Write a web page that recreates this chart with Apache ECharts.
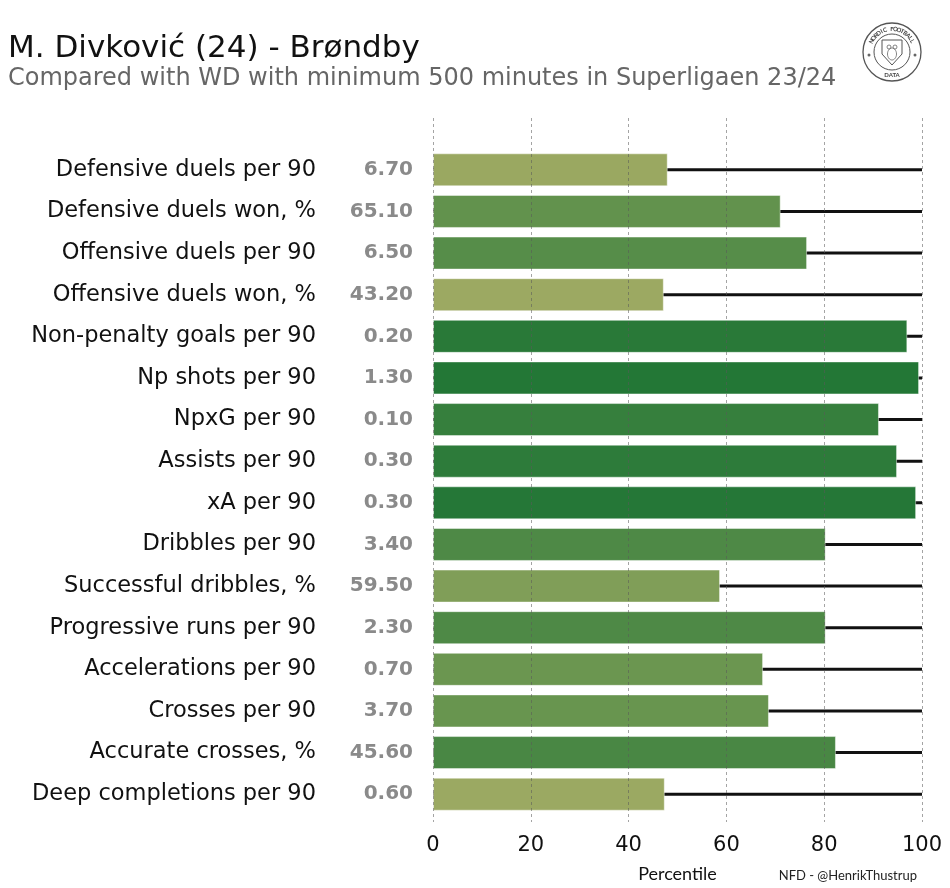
<!DOCTYPE html>
<html>
<head>
<meta charset="utf-8">
<script src="https://cdn.jsdelivr.net/npm/echarts@6/dist/echarts.min.js"></script>
<style>
  html, body { margin: 0; padding: 0; background: #fff; }
  #chart { width: 950px; height: 888px; }
</style>
</head>
<body>
<div id="chart"></div>
<script>
const metrics = [
  'Defensive duels per 90', 'Defensive duels won, %', 'Offensive duels per 90',
  'Offensive duels won, %', 'Non-penalty goals per 90', 'Np shots per 90',
  'NpxG per 90', 'Assists per 90', 'xA per 90', 'Dribbles per 90',
  'Successful dribbles, %', 'Progressive runs per 90', 'Accelerations per 90',
  'Crosses per 90', 'Accurate crosses, %', 'Deep completions per 90'
];
const rawValues = [
  '6.70', '65.10', '6.50', '43.20', '0.20', '1.30', '0.10', '0.30',
  '0.30', '3.40', '59.50', '2.30', '0.70', '3.70', '45.60', '0.60'
];
const percentiles = [
  48.0, 71.1, 76.5, 47.2, 97.0, 99.4, 91.2, 94.9,
  98.8, 80.3, 58.7, 80.3, 67.5, 68.7, 82.4, 47.4
];
const fullScale = [
  100, 100, 100, 100, 100, 100, 100, 100,
  100, 100, 100, 100, 100, 100, 100, 100
];
const xTicks = [0, 20, 40, 60, 80, 100];

const FONT = '"DejaVu Sans", sans-serif';
const SMALL_FONT = 'Lato, sans-serif';

// little badge top right, letters placed round the ring
const logoCx = 892, logoCy = 52;
const ringText = 'NORDIC FOOTBALL';
const ringChars = [];
for (let i = 0; i < ringText.length; i++) {
  const a = (-152 + i * (124 / (ringText.length - 1))) * Math.PI / 180;
  ringChars.push({
    type: 'text',
    x: logoCx + 23 * Math.cos(a),
    y: logoCy + 23 * Math.sin(a),
    rotation: -(a + Math.PI / 2),
    style: { text: ringText[i], fill: '#444', font: 'bold 6px ' + SMALL_FONT, align: 'center', verticalAlign: 'middle' }
  });
}

const chart = echarts.init(document.getElementById('chart'));
chart.setOption({
  backgroundColor: '#fff',
  animation: false,
  title: [
    {
      text: 'M. Divković (24) - Brøndby',
      left: 3, top: 28,
      textStyle: { fontFamily: FONT, fontSize: 31, fontWeight: 'normal', color: '#111' }
    },
    {
      text: 'Compared with WD with minimum 500 minutes in Superligaen 23/24',
      left: 3, top: 62,
      textStyle: { fontFamily: FONT, fontSize: 24, fontWeight: 'normal', color: '#666' }
    },
    {
      text: 'NFD - @HenrikThustrup',
      right: 28, top: 864,
      textStyle: { fontFamily: SMALL_FONT, fontSize: 13, fontWeight: 'normal', color: '#222' }
    }
  ],
  grid: [
    { left: 433, right: 28, top: 149, bottom: 66 },
    { left: 433, right: 28, top: 118, bottom: 66 }
  ],
  visualMap: {
    show: false,
    type: 'continuous',
    seriesIndex: 1,
    dimension: 0,
    min: 45, max: 100,
    inRange: { color: ['#a1ab64', '#5f914c', '#227636'] }
  },
  xAxis: [
    {
      type: 'value',
      gridIndex: 0,
      min: 0, max: 100, interval: 20,
      name: 'Percentile',
      nameLocation: 'middle',
      nameGap: 50,
      nameTextStyle: { fontFamily: SMALL_FONT, fontSize: 18, color: '#111' },
      axisLine: { show: false },
      axisTick: { show: false },
      axisLabel: {
        fontFamily: FONT, fontSize: 21, color: '#111', margin: 20,
        formatter: v => xTicks.includes(v) ? String(v) : ''
      },
      splitLine: { show: false }
    },
    {
      // dashed guides drawn over the bars, a bit taller than the bar area
      type: 'value',
      gridIndex: 1,
      min: 0, max: 100, interval: 20,
      z: 5,
      axisLine: { show: false },
      axisTick: { show: false },
      axisLabel: { show: false },
      splitLine: { show: true, lineStyle: { color: 'rgba(90,90,90,0.55)', type: [3, 3], width: 1 } }
    }
  ],
  yAxis: [
    {
      type: 'category',
      gridIndex: 0,
      data: metrics,
      inverse: true,
      axisLine: { show: false },
      axisTick: { show: false },
      axisLabel: { fontFamily: FONT, fontSize: 22.5, color: '#111', margin: 117 }
    },
    {
      type: 'category',
      gridIndex: 0,
      data: rawValues,
      inverse: true,
      position: 'left',
      axisLine: { show: false },
      axisTick: { show: false },
      axisLabel: { fontFamily: FONT, fontSize: 20, fontWeight: 'bold', color: '#8a8a8a', margin: 20 }
    },
    {
      type: 'value',
      gridIndex: 1,
      show: false
    }
  ],
  series: [
    {
      type: 'pictorialBar',
      data: fullScale,
      symbol: 'rect',
      symbolSize: ['100%', 3],
      barWidth: 33,
      barGap: '-100%',
      itemStyle: { color: '#111' },
      silent: true,
      z: 1
    },
    {
      type: 'bar',
      data: percentiles,
      barWidth: 33,
      barGap: '-100%',
      itemStyle: { borderColor: 'rgba(255,255,255,0.45)', borderWidth: 1 },
      z: 2
    }
  ],
  graphic: [
    {
      type: 'group',
      children: [
        { type: 'circle', shape: { cx: logoCx, cy: logoCy, r: 29 }, style: { fill: '#fff', stroke: '#555', lineWidth: 1.3 } },
        { type: 'circle', shape: { cx: logoCx, cy: logoCy, r: 18 }, style: { fill: 'none', stroke: '#555', lineWidth: 1 } },
        {
          type: 'polygon',
          shape: { points: [[logoCx - 10, logoCy - 12], [logoCx + 10, logoCy - 12], [logoCx + 10, logoCy + 2], [logoCx, logoCy + 13], [logoCx - 10, logoCy + 2]] },
          style: { fill: 'none', stroke: '#555', lineWidth: 1 }
        },
        { type: 'circle', shape: { cx: logoCx - 3, cy: logoCy - 5, r: 2 }, style: { fill: 'none', stroke: '#666', lineWidth: 0.8 } },
        { type: 'circle', shape: { cx: logoCx + 3, cy: logoCy - 5, r: 2 }, style: { fill: 'none', stroke: '#666', lineWidth: 0.8 } },
        { type: 'ellipse', shape: { cx: logoCx, cy: logoCy + 2, rx: 4.5, ry: 6 }, style: { fill: 'none', stroke: '#666', lineWidth: 0.8 } },
        { type: 'circle', shape: { cx: logoCx - 23, cy: logoCy + 3, r: 1.5 }, style: { fill: '#666' } },
        { type: 'circle', shape: { cx: logoCx + 23, cy: logoCy + 3, r: 1.5 }, style: { fill: '#666' } },
        {
          type: 'text', x: logoCx, y: logoCy + 23,
          style: { text: 'DATA', fill: '#444', font: 'bold 6px ' + SMALL_FONT, align: 'center', verticalAlign: 'middle' }
        }
      ].concat(ringChars)
    }
  ]
});
</script>
</body>
</html>
